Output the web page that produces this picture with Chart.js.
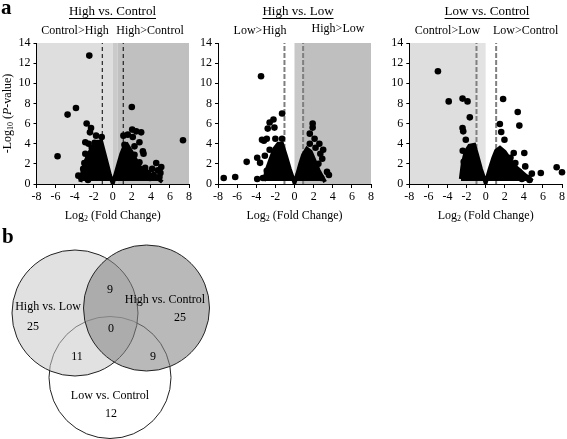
<!DOCTYPE html>
<html>
<head>
<meta charset="utf-8">
<script src="https://cdn.jsdelivr.net/npm/chart.js@4.4.1/dist/chart.umd.min.js"></script>
<style>
  body { margin: 0; background: #fff; }
  #wrap { position: relative; width: 567px; height: 439px; overflow: hidden; }
  canvas { position: absolute; }
</style>
</head>
<body>
<div id="wrap">
  <canvas id="p1" width="195" height="230" style="left:0;top:0"></canvas>
  <canvas id="p2" width="187" height="230" style="left:195px;top:0"></canvas>
  <canvas id="p3" width="182" height="230" style="left:385px;top:0"></canvas>
  <canvas id="venn" width="240" height="217" style="left:0;top:222px"></canvas>
</div>
<script>
// axis ticks
const xTicks = [-8, -6, -4, -2, 0, 2, 4, 6, 8];
const yTicks = [0, 2, 4, 6, 8, 10, 12, 14];

// High vs. Control: [log2 FC, -log10 p]
const hcPoints = [
  [-2.46, 12.75], [-3.86, 7.55], [-4.74, 6.89], [-5.79, 2.75], [-3.61, 0.83],
  [-1.16, 4.67], [-2.74, 6.0], [-2.28, 5.56], [-2.39, 5.13], [-1.75, 4.8],
  [-2.88, 4.14], [-2.53, 4.0], [-2.88, 3.0], [-2.98, 2.09], [-2.53, 2.48],
  [-2.2, 3.6], [-1.9, 4.1], [-3.1, 1.5], [-2.7, 1.2], [-3.3, 0.6], [-2.6, 0.4],
  [2.0, 7.65], [7.37, 4.34], [1.12, 4.8], [1.58, 4.9], [2.04, 5.4], [2.46, 5.23],
  [2.98, 5.13], [2.1, 4.67], [2.8, 4.14], [2.28, 3.74], [3.16, 3.25], [2.28, 2.9],
  [3.23, 3.0], [2.8, 2.15], [3.68, 1.1], [4.56, 2.09], [5.09, 1.69], [4.14, 1.5],
  [4.74, 1.36], [5.0, 1.1], [1.23, 3.9], [3.4, 1.6], [4.3, 0.9], [3.9, 0.6], [4.9, 0.7]
];
// outline of the dense cloud (top edge)
const hcCloud = [
  [-3.4, 0.2], [-3.2, 1.1], [-3.0, 1.9], [-2.7, 2.6], [-2.4, 3.2], [-2.0, 3.8],
  [-1.6, 4.2], [-1.2, 4.2], [-0.9, 3.1], [-0.6, 2.0], [-0.3, 0.9], [0, 0.05],
  [0.3, 1.0], [0.6, 2.0], [0.9, 3.0], [1.2, 3.7], [1.5, 3.9], [1.9, 3.3],
  [2.3, 2.6], [2.7, 1.9], [3.1, 1.4], [3.6, 1.0], [4.2, 0.7], [4.8, 0.5], [5.2, 0.2]
];

// High vs. Low
const hlPoints = [
  [-3.5, 10.7], [-1.3, 7.0], [-2.2, 6.4], [-2.6, 6.1], [-2.1, 5.6], [-2.8, 5.5],
  [-3.4, 4.4], [-3.2, 4.3], [-2.9, 4.5], [-3.9, 2.6], [-3.6, 2.1], [-5.0, 2.2],
  [-6.2, 0.7], [-7.4, 0.6], [-3.9, 0.5], [-2.9, 1.3], [-2.0, 4.5], [-1.3, 4.5],
  [-2.6, 3.4], [-3.1, 2.8], [-3.3, 0.6],
  [1.9, 6.0], [1.9, 5.6], [1.6, 5.0], [2.1, 4.5], [2.6, 4.0], [2.2, 3.6],
  [3.0, 3.4], [2.9, 2.5], [2.5, 2.0], [3.4, 1.2], [3.6, 0.9], [1.6, 4.0], [2.7, 3.0],
  [2.8, 0.6]
];
const hlCloud = [
  [-3.2, 0.3], [-2.9, 1.4], [-2.5, 2.5], [-2.1, 3.5], [-1.7, 4.0], [-1.3, 4.0],
  [-0.9, 2.8], [-0.5, 1.5], [0, 0.1], [0.3, 1.0], [0.6, 2.0], [0.9, 2.9],
  [1.3, 3.5], [1.7, 3.2], [2.1, 2.3], [2.5, 1.4], [2.9, 0.7], [3.2, 0.2]
];

// Low vs. Control
const lcPoints = [
  [-5.0, 11.2], [-3.87, 8.2], [-2.42, 8.48], [-1.9, 8.2], [-1.66, 6.62],
  [-2.42, 5.56], [-2.35, 5.23], [-2.08, 4.4], [-2.4, 3.3], [-2.3, 2.2], [-2.1, 1.0],
  [1.83, 8.44], [3.36, 7.15], [3.53, 5.8], [1.49, 5.96], [1.63, 5.17], [1.97, 4.4],
  [2.94, 3.08], [4.05, 3.08], [2.18, 2.15], [3.11, 2.09], [4.15, 1.75], [4.84, 1.03],
  [5.78, 1.09], [7.44, 1.66], [8.0, 1.16], [3.5, 1.2], [4.4, 0.6], [2.6, 2.6],
  [3.8, 0.5], [4.6, 0.4]
];
const lcCloud = [
  [-2.6, 0.5], [-2.4, 2.0], [-2.1, 3.2], [-1.7, 3.8], [-1.2, 3.9], [-0.9, 2.9],
  [-0.5, 1.5], [0, 0.1], [0.4, 1.4], [0.8, 2.6], [1.1, 3.3], [1.5, 3.6],
  [2.0, 3.2], [2.5, 2.5], [3.0, 1.8], [3.5, 1.4], [4.0, 1.0], [4.5, 0.6], [4.9, 0.3]
];

// Venn counts
const vennNames = ['High vs. Low', 'High vs. Control', 'Low vs. Control'];
const vennRegions = ['HL only', 'HL & HC', 'HC only', 'all', 'HL & LC', 'HC & LC', 'LC only'];
const vennCounts = [25, 9, 25, 0, 11, 9, 12];

// ---- layout (page pixels) ----
const vennCircles = [ // HL, HC, LC
  { x: 75, y: 313, r: 63 },
  { x: 146.5, y: 308, r: 63 },
  { x: 110, y: 377.5, r: 61 }
];
const vennNamePos = [[48, 307], [165, 300], [110, 396]];
const vennCountPos = [[33, 327], [110, 290], [180, 318], [111, 329], [77, 357], [153, 357], [111, 414]];
const VENN_TOP = 222, VENN_W = 240, VENN_H = 217;
const VENN_OVER = 64; // chart area inset that bubble charts reserve (largest r + border)

const SERIF = '"Liberation Serif", "DejaVu Serif", serif';

function drawRich(ctx, segs, x, y, size) {
  // segs: [text, style]; style '' | 'sub' | 'i'; centred on x
  const fontOf = s => s === 'sub' ? `${Math.round(size * 0.7)}px ${SERIF}`
                    : s === 'i' ? `italic ${size}px ${SERIF}` : `${size}px ${SERIF}`;
  let w = 0;
  segs.forEach(([t, s]) => { ctx.font = fontOf(s); w += ctx.measureText(t).width; });
  let cx = x - w / 2;
  ctx.textBaseline = 'middle';
  ctx.textAlign = 'left';
  segs.forEach(([t, s]) => {
    ctx.font = fontOf(s);
    ctx.fillText(t, cx, s === 'sub' ? y + size * 0.28 : y);
    cx += ctx.measureText(t).width;
  });
}

const volcanoDecor = {
  id: 'volcanoDecor',
  beforeDraw(chart, args, o) {
    const { ctx, chartArea: a, scales: { x } } = chart;
    ctx.save();
    o.bands.forEach(([from, to, col]) => {
      const l = x.getPixelForValue(from), r = x.getPixelForValue(to);
      ctx.fillStyle = col;
      ctx.fillRect(l, a.top, r - l, a.bottom - a.top);
    });
    ctx.restore();
  },
  afterDraw(chart, args, o) {
    const { ctx, chartArea: a } = chart;
    ctx.save();
    ctx.fillStyle = '#000';
    ctx.strokeStyle = '#000';
    // panel title, underlined
    ctx.font = `13px ${SERIF}`;
    ctx.textAlign = 'center';
    ctx.textBaseline = 'middle';
    ctx.fillText(o.title, o.titleX, 12);
    const tw = ctx.measureText(o.title).width;
    ctx.lineWidth = 1;
    ctx.beginPath();
    ctx.moveTo(o.titleX - tw / 2, 18.5);
    ctx.lineTo(o.titleX + tw / 2, 18.5);
    ctx.stroke();
    // direction labels
    ctx.font = `12px ${SERIF}`;
    o.subs.forEach(([t, sx, sy]) => ctx.fillText(t, sx, sy));
    // axis titles
    drawRich(ctx, [['Log', ''], ['2', 'sub'], [' (Fold Change)', '']], (a.left + a.right) / 2, 216, 12);
    if (o.yTitle) {
      ctx.translate(8, (a.top + a.bottom) / 2);
      ctx.rotate(-Math.PI / 2);
      drawRich(ctx, [['-Log', ''], ['10', 'sub'], [' (', ''], ['P', 'i'], ['-value)', '']], 0, 0, 12);
      ctx.setTransform(1, 0, 0, 1, 0, 0);
    }
    if (o.letter) {
      ctx.font = `bold 21px ${SERIF}`;
      ctx.textAlign = 'left';
      ctx.textBaseline = 'alphabetic';
      ctx.fillText(o.letter, 1, 14);
    }
    ctx.restore();
  }
};

function toXY(arr) { return arr.map(([x, y]) => ({ x, y })); }

function volcano(id, pts, cloud, cfg) {
  const axisFont = { family: SERIF, size: 12 };
  new Chart(document.getElementById(id), {
    type: 'scatter',
    data: {
      datasets: [
        {
          data: toXY(pts), pointRadius: 3.3, pointBackgroundColor: '#000',
          pointBorderWidth: 0, clip: false
        },
        {
          data: toXY(cloud), showLine: true, pointRadius: 0, borderColor: '#000',
          borderWidth: 4, backgroundColor: '#000', fill: { value: 0.3 }, borderJoinStyle: 'miter'
        },
        ...cfg.cuts.map(c => ({
          data: [{ x: c, y: 0 }, { x: c, y: 14 }], showLine: true, pointRadius: 0,
          borderColor: cfg.cutColor, borderWidth: cfg.cutWidth, borderDash: cfg.cutDash
        }))
      ]
    },
    options: {
      responsive: false, animation: false, devicePixelRatio: 1,
      layout: { padding: { top: 43, right: cfg.padRight, left: 0, bottom: 0 } },
      plugins: {
        legend: { display: false }, tooltip: { enabled: false },
        volcanoDecor: cfg.decor
      },
      scales: {
        x: {
          type: 'linear', min: -8, max: 8,
          afterBuildTicks: s => { s.ticks = xTicks.map(v => ({ value: v })); },
          afterFit: s => { s.height = 46; },
          ticks: { color: '#000', font: axisFont, padding: 2, maxRotation: 0 },
          grid: { drawOnChartArea: false, color: '#000', tickLength: 4 },
          border: { color: '#000', width: 1 }
        },
        y: {
          min: 0, max: 14,
          afterBuildTicks: s => { s.ticks = yTicks.map(v => ({ value: v })); },
          afterFit: s => { s.width = cfg.yWidth; },
          ticks: { color: '#000', font: axisFont, padding: 3 },
          grid: { drawOnChartArea: false, color: '#000', tickLength: 3 },
          border: { color: '#000', width: 1 }
        }
      }
    },
    plugins: [volcanoDecor]
  });
}

volcano('p1', hcPoints, hcCloud, {
  yWidth: 36.5, padRight: 6, cuts: [-1.1, 1.1], cutColor: '#000', cutWidth: 1, cutDash: [4, 3],
  decor: {
    bands: [[-8, 0, '#dedede'], [0, 0.5, '#cacaca'], [0.5, 8, '#c0c0c0']],
    title: 'High vs. Control', titleX: 112.5, yTitle: true, letter: 'a',
    subs: [['Control>High', 75, 31], ['High>Control', 150, 31]]
  }
});
volcano('p2', hlPoints, hlCloud, {
  yWidth: 23, padRight: 11, cuts: [-1.05, 0.9], cutColor: '#7f7f7f', cutWidth: 2, cutDash: [5, 2],
  decor: {
    bands: [[0, 0.9, '#c8c8c8'], [0.9, 8, '#bfbfbf']],
    title: 'High vs. Low', titleX: 103,
    subs: [['Low>High', 65, 31], ['High>Low', 143, 29]]
  }
});
volcano('p3', lcPoints, lcCloud, {
  yWidth: 24.3, padRight: 3.7, cuts: [-0.96, 1.1], cutColor: '#7f7f7f', cutWidth: 2, cutDash: [5, 2],
  decor: {
    bands: [[-8, -1, '#dedede'], [-1, 0, '#e3e3e3']],
    title: 'Low vs. Control', titleX: 102,
    subs: [['Control>Low', 62.5, 31], ['Low>Control', 140.7, 31]]
  }
});

// ---- Venn diagram (bubble chart; scales set so data units are page pixels) ----
const vennLabels = {
  id: 'vennLabels',
  afterDraw(chart) {
    const { ctx, scales: { x, y } } = chart;
    ctx.save();
    ctx.fillStyle = '#000';
    ctx.textAlign = 'center';
    ctx.textBaseline = 'middle';
    ctx.font = `12px ${SERIF}`;
    vennNames.forEach((n, i) => ctx.fillText(n, x.getPixelForValue(vennNamePos[i][0]), y.getPixelForValue(vennNamePos[i][1])));
    vennCounts.forEach((c, i) => ctx.fillText(String(c), x.getPixelForValue(vennCountPos[i][0]), y.getPixelForValue(vennCountPos[i][1])));
    ctx.font = `bold 21px ${SERIF}`;
    ctx.textAlign = 'left';
    ctx.textBaseline = 'alphabetic';
    ctx.fillText('b', x.getPixelForValue(2), y.getPixelForValue(243));
    ctx.restore();
  }
};

new Chart(document.getElementById('venn'), {
  type: 'bubble',
  data: {
    datasets: [
      // drawn last -> first, so High vs. Control ends on top
      { label: vennNames[1], data: [vennCircles[1]], backgroundColor: 'rgba(135,135,135,0.58)', borderColor: '#222', borderWidth: 1, clip: false },
      { label: vennNames[0], data: [vennCircles[0]], backgroundColor: 'rgba(200,200,200,0.55)', borderColor: '#222', borderWidth: 1, clip: false },
      { label: vennNames[2], data: [vennCircles[2]], backgroundColor: '#fff', borderColor: '#222', borderWidth: 1, clip: false }
    ]
  },
  options: {
    responsive: false, animation: false, devicePixelRatio: 1,
    layout: { padding: 0 },
    plugins: { legend: { display: false }, tooltip: { enabled: false } },
    scales: {
      x: { display: false, min: VENN_OVER, max: VENN_W - VENN_OVER },
      y: { display: false, min: VENN_TOP + VENN_OVER, max: VENN_TOP + VENN_H - VENN_OVER, reverse: true }
    }
  },
  plugins: [vennLabels]
});
</script>
</body>
</html>
